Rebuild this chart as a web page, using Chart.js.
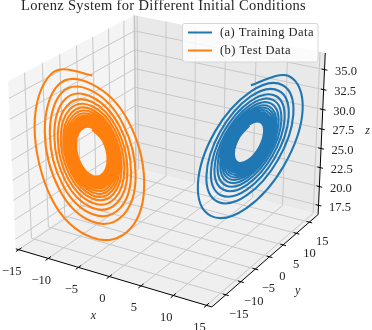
<!DOCTYPE html>
<html>
<head>
<meta charset="utf-8">
<script src="https://cdn.jsdelivr.net/npm/chart.js@4/dist/chart.umd.min.js"></script>
<style>
html,body{margin:0;padding:0;background:#fff;}
canvas{display:block;}
</style>
</head>
<body>
<canvas id="lorenz" width="372" height="330"></canvas>
<script>
// axis ticks
var xTicks = [-15, -10, -5, 0, 5, 10, 15];
var yTicks = [-15, -10, -5, 0, 5, 10, 15];
var zTicks = [17.5, 20, 22.5, 25, 27.5, 30, 32.5, 35];
var xLim = [-15.5, 15.8];
var yLim = [-19.5, 18.5];
var zLim = [16.26, 37.05];

var seriesNames = ["(a) Training Data", "(b) Test Data"];

// training trajectory, one row per turn of the spiral
var trainX = [8.95,
 7.80,7.03,7.11,8.01,9.21,10.00,9.92,8.99,
 7.75,6.92,7.01,7.97,9.26,10.12,10.03,9.03,
 7.69,6.81,6.90,7.93,9.31,10.23,10.13,9.07,
 7.64,6.69,6.79,7.90,9.37,10.34,10.24,9.10,
 7.58,6.58,6.69,7.86,9.42,10.46,10.35,9.14,
 7.53,6.46,6.58,7.82,9.48,10.57,10.46,9.18,
 7.47,6.35,6.47,7.78,9.54,10.70,10.58,9.22,
 7.41,6.21,6.33,7.74,9.61,10.85,10.72,9.27,
 7.34,6.05,6.18,7.68,9.68,11.02,10.88,9.32,
 7.25,5.88,6.02,7.63,9.77,11.20,11.05,9.39,
 7.16,5.68,5.83,7.56,9.88,11.43,11.27,9.46,
 7.04,5.42,5.59,7.47,10.01,11.70,11.53,9.56,
 6.91,5.12,5.30,7.37,10.16,12.02,11.84,9.66,
 6.74,4.77,4.95,7.25,10.34,12.43,12.23,9.80,
 6.53,4.33,4.53,7.10,10.56,12.89,12.67,9.96,
 6.22,3.50,3.63,6.78,11.03,13.82,13.39,10.16];
var trainY = [7.50,
 6.42,6.55,7.83,9.52,10.64,10.51,9.18,7.42,
 6.26,6.40,7.77,9.60,10.80,10.66,9.23,7.34,
 6.10,6.25,7.72,9.68,10.97,10.81,9.28,7.26,
 5.93,6.09,7.67,9.76,11.13,10.96,9.34,7.18,
 5.77,5.94,7.62,9.84,11.29,11.12,9.39,7.10,
 5.61,5.79,7.57,9.92,11.46,11.27,9.44,7.03,
 5.43,5.63,7.51,10.00,11.64,11.44,9.50,6.93,
 5.24,5.45,7.45,10.10,11.85,11.64,9.57,6.83,
 5.03,5.24,7.38,10.21,12.08,11.86,9.64,6.71,
 4.77,5.00,7.30,10.34,12.34,12.10,9.73,6.58,
 4.49,4.74,7.20,10.49,12.66,12.41,9.83,6.41,
 4.14,4.40,7.09,10.67,13.05,12.77,9.96,6.21,
 3.73,4.00,6.95,10.88,13.50,13.19,10.11,5.98,
 3.23,3.53,6.78,11.15,14.06,13.74,10.29,5.69,
 2.61,2.94,6.58,11.46,14.71,14.36,10.51,5.36,
 1.67,1.83,6.15,12.15,16.13,15.59,10.86,4.93];
var trainZ = [29.44,
 27.94,25.83,24.34,24.36,25.90,28.10,29.64,29.62,
 28.01,25.74,24.13,24.15,25.82,28.17,29.84,29.81,
 28.08,25.64,23.91,23.94,25.73,28.25,30.03,30.00,
 28.15,25.54,23.70,23.73,25.64,28.33,30.22,30.19,
 28.22,25.44,23.49,23.52,25.55,28.40,30.41,30.37,
 28.29,25.34,23.27,23.31,25.46,28.48,30.60,30.56,
 28.35,25.24,23.05,23.08,25.35,28.56,30.81,30.78,
 28.43,25.12,22.78,22.81,25.24,28.66,31.07,31.02,
 28.52,24.98,22.47,22.51,25.10,28.76,31.35,31.30,
 28.62,24.82,22.14,22.17,24.95,28.88,31.65,31.60,
 28.72,24.64,21.74,21.77,24.77,29.02,32.03,31.98,
 28.86,24.41,21.25,21.27,24.53,29.18,32.47,32.43,
 29.00,24.13,20.66,20.68,24.26,29.37,33.00,32.95,
 29.18,23.79,19.93,19.94,23.92,29.60,33.65,33.61,
 29.39,23.36,19.04,19.06,23.50,29.85,34.38,34.33,
 29.69,22.52,17.10,17.07,22.56,30.32,35.55,35.25];

// test trajectory around the other wing
var testX = [-8.95,
 -7.80,-7.03,-7.11,-8.01,-9.21,-10.00,-9.92,-8.99,
 -7.75,-6.92,-7.01,-7.97,-9.26,-10.12,-10.03,-9.03,
 -7.69,-6.81,-6.90,-7.93,-9.31,-10.23,-10.13,-9.07,
 -7.64,-6.69,-6.79,-7.90,-9.37,-10.34,-10.24,-9.10,
 -7.58,-6.58,-6.69,-7.86,-9.42,-10.46,-10.35,-9.14,
 -7.53,-6.46,-6.58,-7.82,-9.48,-10.57,-10.46,-9.18,
 -7.47,-6.35,-6.47,-7.78,-9.54,-10.70,-10.58,-9.22,
 -7.41,-6.21,-6.33,-7.74,-9.61,-10.85,-10.72,-9.27,
 -7.34,-6.05,-6.18,-7.68,-9.68,-11.02,-10.88,-9.32,
 -7.25,-5.88,-6.02,-7.63,-9.77,-11.20,-11.05,-9.39,
 -7.16,-5.68,-5.83,-7.56,-9.88,-11.43,-11.27,-9.46,
 -7.04,-5.42,-5.59,-7.47,-10.01,-11.70,-11.53,-9.56,
 -6.91,-5.12,-5.30,-7.37,-10.16,-12.02,-11.84,-9.66,
 -6.74,-4.77,-4.95,-7.25,-10.34,-12.43,-12.23,-9.80,
 -6.53,-4.33,-4.53,-7.10,-10.56,-12.89,-12.67,-9.96,
 -6.22,-3.50,-3.63,-6.78,-11.03,-13.82,-13.39,-10.16];
var testY = [-7.50,
 -6.42,-6.55,-7.83,-9.52,-10.64,-10.51,-9.18,-7.42,
 -6.26,-6.40,-7.77,-9.60,-10.80,-10.66,-9.23,-7.34,
 -6.10,-6.25,-7.72,-9.68,-10.97,-10.81,-9.28,-7.26,
 -5.93,-6.09,-7.67,-9.76,-11.13,-10.96,-9.34,-7.18,
 -5.77,-5.94,-7.62,-9.84,-11.29,-11.12,-9.39,-7.10,
 -5.61,-5.79,-7.57,-9.92,-11.46,-11.27,-9.44,-7.03,
 -5.43,-5.63,-7.51,-10.00,-11.64,-11.44,-9.50,-6.93,
 -5.24,-5.45,-7.45,-10.10,-11.85,-11.64,-9.57,-6.83,
 -5.03,-5.24,-7.38,-10.21,-12.08,-11.86,-9.64,-6.71,
 -4.77,-5.00,-7.30,-10.34,-12.34,-12.10,-9.73,-6.58,
 -4.49,-4.74,-7.20,-10.49,-12.66,-12.41,-9.83,-6.41,
 -4.14,-4.40,-7.09,-10.67,-13.05,-12.77,-9.96,-6.21,
 -3.73,-4.00,-6.95,-10.88,-13.50,-13.19,-10.11,-5.98,
 -3.23,-3.53,-6.78,-11.15,-14.06,-13.74,-10.29,-5.69,
 -2.61,-2.94,-6.58,-11.46,-14.71,-14.36,-10.51,-5.36,
 -1.67,-1.83,-6.15,-12.15,-16.13,-15.59,-10.86,-4.93];
var testZ = [29.44,
 27.94,25.83,24.34,24.36,25.90,28.10,29.64,29.62,
 28.01,25.74,24.13,24.15,25.82,28.17,29.84,29.81,
 28.08,25.64,23.91,23.94,25.73,28.25,30.03,30.00,
 28.15,25.54,23.70,23.73,25.64,28.33,30.22,30.19,
 28.22,25.44,23.49,23.52,25.55,28.40,30.41,30.37,
 28.29,25.34,23.27,23.31,25.46,28.48,30.60,30.56,
 28.35,25.24,23.05,23.08,25.35,28.56,30.81,30.78,
 28.43,25.12,22.78,22.81,25.24,28.66,31.07,31.02,
 28.52,24.98,22.47,22.51,25.10,28.76,31.35,31.30,
 28.62,24.82,22.14,22.17,24.95,28.88,31.70,31.60,
 28.72,24.64,21.78,21.81,24.77,29.05,32.10,31.98,
 28.86,24.41,21.30,21.32,24.53,29.25,32.60,32.43,
 29.00,24.13,20.75,20.77,24.26,29.50,33.30,32.95,
 29.18,23.79,20.05,20.06,23.92,29.80,34.10,33.61,
 29.39,23.36,19.20,19.22,23.50,30.20,35.00,34.33,
 29.69,22.52,17.45,17.42,22.56,31.00,36.40,35.30];

// camera, same idea as a matplotlib 3d axes
var elev = 24, azim = -59, camDist = 8;
var boxHalf = [0.595, 0.595, 0.475];
var viewScale = 1516, viewX = 170.4, viewY = 151;

var el = elev * Math.PI / 180, az = azim * Math.PI / 180;
var w = [Math.cos(el) * Math.cos(az), Math.cos(el) * Math.sin(az), Math.sin(el)];
var u = [-Math.sin(az), Math.cos(az), 0];
var v = [w[1] * u[2] - w[2] * u[1], w[2] * u[0] - w[0] * u[2], w[0] * u[1] - w[1] * u[0]];

function project(x, y, z) {
    var p = [
        ((x - xLim[0]) / (xLim[1] - xLim[0]) * 2 - 1) * boxHalf[0],
        ((y - yLim[0]) / (yLim[1] - yLim[0]) * 2 - 1) * boxHalf[1],
        ((z - zLim[0]) / (zLim[1] - zLim[0]) * 2 - 1) * boxHalf[2]
    ];
    var ex = u[0] * p[0] + u[1] * p[1] + u[2] * p[2];
    var ey = v[0] * p[0] + v[1] * p[1] + v[2] * p[2];
    var ez = w[0] * p[0] + w[1] * p[1] + w[2] * p[2];
    var depth = camDist - ez;
    return { x: viewX + viewScale * ex / depth, y: viewY - viewScale * ey / depth };
}

// 3d polylines to a flat list, a NaN row breaks the line
function flatten(lines) {
    var out = [];
    lines.forEach(function (line) {
        line.forEach(function (p) { out.push(project(p[0], p[1], p[2])); });
        out.push({ x: NaN, y: NaN });
    });
    return out;
}

var x0 = xLim[0], x1 = xLim[1], y0 = yLim[0], y1 = yLim[1], z0 = zLim[0], z1 = zLim[1];

var gridLines = [];
xTicks.forEach(function (t) { gridLines.push([[t, y0, z0], [t, y1, z0], [t, y1, z1]]); });
yTicks.forEach(function (t) { gridLines.push([[x1, t, z0], [x0, t, z0], [x0, t, z1]]); });
zTicks.forEach(function (t) { gridLines.push([[x0, y0, t], [x0, y1, t], [x1, y1, t]]); });

var axisLines = [
    [[x0, y0, z0], [x1, y0, z0], [x1, y1, z0], [x1, y1, z1]]
];
xTicks.forEach(function (t) { axisLines.push([[t, y0 + 0.8, z0], [t, y0 - 0.8, z0]]); });
yTicks.forEach(function (t) { axisLines.push([[x1 - 0.45, t, z0], [x1 + 0.45, t, z0]]); });
zTicks.forEach(function (t) { axisLines.push([[x1 - 0.45, y1, t], [x1 + 0.45, y1, t]]); });

var paneEdges = [[[x0, y1, z0], [x0, y1, z1]]];

function pane(corners, color) {
    var pts = corners.map(function (c) { return project(c[0], c[1], c[2]); });
    pts.push(pts[0]);
    return { data: pts, showLine: true, pointRadius: 0, borderWidth: 0, borderColor: color, backgroundColor: color, fill: 'shape', tension: 0 };
}

function plain(lines, color, width) {
    return { data: flatten(lines), showLine: true, pointRadius: 0, borderColor: color, borderWidth: width, tension: 0, spanGaps: false };
}

function series(xs, ys, zs, color) {
    var pts = xs.map(function (_, i) { return project(xs[i], ys[i], zs[i]); });
    return { data: pts, showLine: true, pointRadius: 0, borderColor: color, borderWidth: 2.1, tension: 0.375, borderJoinStyle: 'round', borderCapStyle: 'butt', evenSpline: true };
}

var blue = '#1f77b4', orange = '#ff7f0e';
var serif = '"Liberation Serif", "DejaVu Serif", serif';

function minus(t) { return String(t).replace('-', '\u2212'); }

// chart.js weights its bezier handles by chord length, which flattens narrow ellipses,
// so give the spiral lines evenly weighted handles instead
var evenSplinePlugin = {
    id: 'evenSpline',
    beforeDatasetsDraw: function (chart) {
        chart.data.datasets.forEach(function (d, i) {
            if (!d.evenSpline) return;
            var meta = chart.getDatasetMeta(i);
            var pts = meta.data;
            for (var k = 0; k < pts.length; k++) {
                var a = pts[Math.max(k - 1, 0)], b = pts[Math.min(k + 1, pts.length - 1)];
                var hx = (b.x - a.x) * d.tension / 2, hy = (b.y - a.y) * d.tension / 2;
                pts[k].cp1x = pts[k].x - hx; pts[k].cp1y = pts[k].y - hy;
                pts[k].cp2x = pts[k].x + hx; pts[k].cp2y = pts[k].y + hy;
            }
            meta.dataset._pointsUpdated = true;
        });
    }
};

// title, tick labels, axis letters and the legend go on top of the datasets
var textPlugin = {
    id: 'textPlugin',
    afterDatasetsDraw: function (chart) {
        var c = chart.ctx;
        var sx = chart.scales.x, sy = chart.scales.y;
        function label(s, px, py, font, align, spacing) {
            c.font = font;
            c.textAlign = align || 'center';
            c.textBaseline = 'middle';
            c.fillStyle = '#262626';
            c.letterSpacing = spacing || '0px';
            c.fillText(s, sx.getPixelForValue(px), sy.getPixelForValue(py));
        }
        c.save();
        label('Lorenz System for Different Initial Conditions', 163.5, 6.5, '14.5px ' + serif, 'center', '0.33px');

        var tickFont = '12.5px ' + serif;
        xTicks.forEach(function (t) {
            var p = project(t, y0, z0);
            label(minus(t), p.x - 7, p.y + 22, tickFont);
        });
        yTicks.forEach(function (t) {
            var p = project(x1, t, z0);
            label(minus(t), p.x + 13, p.y + 20, tickFont);
        });
        zTicks.forEach(function (t) {
            var p = project(x1, y1, t);
            label(t.toFixed(1), p.x + 21.5, p.y + 2, tickFont);
        });
        label('x', 93.3, 315.7, 'italic 12px ' + serif);
        label('y', 297.7, 290.7, 'italic 12px ' + serif);
        label('z', 367.7, 130.7, 'italic 12px ' + serif);

        // legend box
        c.beginPath();
        c.roundRect(182.5, 23.5, 135.5, 38.5, 2);
        c.fillStyle = 'rgba(255,255,255,0.8)';
        c.fill();
        c.strokeStyle = '#d6d6d6';
        c.lineWidth = 1;
        c.stroke();
        [blue, orange].forEach(function (col, i) {
            var yy = 32.5 + i * 18;
            c.beginPath();
            c.moveTo(188, yy);
            c.lineTo(212, yy);
            c.strokeStyle = col;
            c.lineWidth = 2;
            c.stroke();
            label(seriesNames[i], 220, yy, '12.5px ' + serif, 'left', '0.45px');
        });
        c.restore();
    }
};

var chart = new Chart(document.getElementById('lorenz'), {
    type: 'scatter',
    data: {
        datasets: [
            pane([[x0, y0, z0], [x0, y1, z0], [x0, y1, z1], [x0, y0, z1]], '#f4f4f4'),
            pane([[x0, y1, z0], [x1, y1, z0], [x1, y1, z1], [x0, y1, z1]], '#e9e9e9'),
            pane([[x0, y0, z0], [x1, y0, z0], [x1, y1, z0], [x0, y1, z0]], '#efefef'),
            plain(paneEdges, '#c4c4c4', 1.5),
            plain(gridLines, '#c8c8c8', 1),
            plain(axisLines, '#000000', 1),
            series(testX, testY, testZ, orange),
            series(trainX, trainY, trainZ, blue)
        ].map(function (d, i, all) { d.order = all.length - i; return d; })
    },
    options: {
        responsive: false,
        animation: false,
        layout: { padding: 0 },
        scales: {
            x: { type: 'linear', min: 0, max: 372, display: false },
            y: { type: 'linear', min: 0, max: 330, reverse: true, display: false }
        },
        plugins: { legend: { display: false }, tooltip: { enabled: false } }
    },
    plugins: [evenSplinePlugin, textPlugin]
});
</script>
</body>
</html>
